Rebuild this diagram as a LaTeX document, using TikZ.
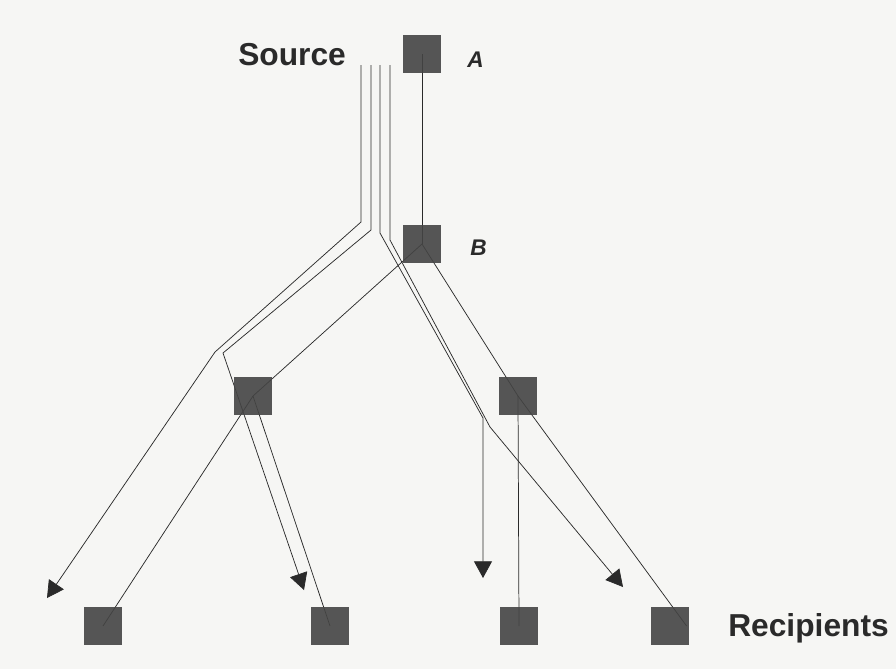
\documentclass[tikz,border=0pt]{standalone}
\usepackage{fontspec}
\setmainfont{Liberation Sans}
\usetikzlibrary{arrows.meta}
\definecolor{ink}{HTML}{2A2A2A}
\definecolor{boxgray}{HTML}{444444}
\definecolor{paper}{HTML}{F6F6F4}
\pgfdeclarelayer{paperlayer}
\pgfdeclarelayer{wires}
\pgfsetlayers{paperlayer,wires,main}

\begin{document}
\begin{tikzpicture}[x=0.75pt,y=-0.75pt,
  router/.style={rectangle, draw=none, fill=boxgray, fill opacity=0.9,
                 minimum size=28.5pt, inner sep=0pt},
  link/.style={draw=ink, line width=0.55pt},
  flow/.style={link, -{Triangle[length=12.5pt,width=13.5pt,fill=ink]}},
  big/.style={font=\fontsize{23.8}{27}\selectfont\bfseries, inner sep=0pt, text=ink},
  tag/.style={font=\fontsize{17}{20}\selectfont\bfseries\itshape, inner sep=0pt, text=ink}
]
% paper
\begin{pgfonlayer}{paperlayer}
  \fill[paper] (0,0) rectangle (896,669);
\end{pgfonlayer}
\useasboundingbox (0,0) rectangle (896,669);

% routers and recipients
\node[router] (A) at (422,54) {};
\node[router] (B) at (422,244) {};
\node[router] (C) at (253,396) {};
\node[router] (D) at (518,396) {};
\node[router] (r1) at (103,626) {};
\node[router] (r2) at (330,626) {};
\node[router] (r3) at (519,626) {};
\node[router] (r4) at (670,626) {};

% labels
\node[big, anchor=base west] (src) at (238,65) {Source};
\node[big, anchor=base west] (rcp) at (728,636) {Recipients};
\node[tag, anchor=base west] (la) at (467,67) {A};
\node[tag, anchor=base west] (lb) at (470,255) {B};

% unicast streams leaving the source
\coordinate (s1) at (361,65);
\coordinate (s2) at (371,65);
\coordinate (s3) at (380,65);
\coordinate (s4) at (390,65);
\coordinate (t1) at (47,598);
\coordinate (t2) at (304,590);
\coordinate (t3) at (483,578);
\coordinate (t4) at (623,587);

\begin{pgfonlayer}{wires}
  \draw[flow] (s1) -- (361,222) -- (215,352) -- (t1);
  \draw[flow] (s2) -- (371,230) -- (223,353) -- (t2);
  \draw[flow] (s3) -- (380,233) -- (483,418) -- (t3);
  \draw[flow] (s4) -- (390,240) -- (490,427) -- (t4);

  % multicast tree
  \draw[link] (A.center) -- (B.center);
  \draw[link] (B.center) -- (C.center);
  \draw[link] (B.center) -- (D.center);
  \draw[link] (C.center) -- (r1.center);
  \draw[link] (C.center) -- (r2.center);
  \draw[link] (D.center) -- (r3.center);
  \draw[link] (D.center) -- ([xshift=-2pt]r4.east);
\end{pgfonlayer}
\end{tikzpicture}
\end{document}
